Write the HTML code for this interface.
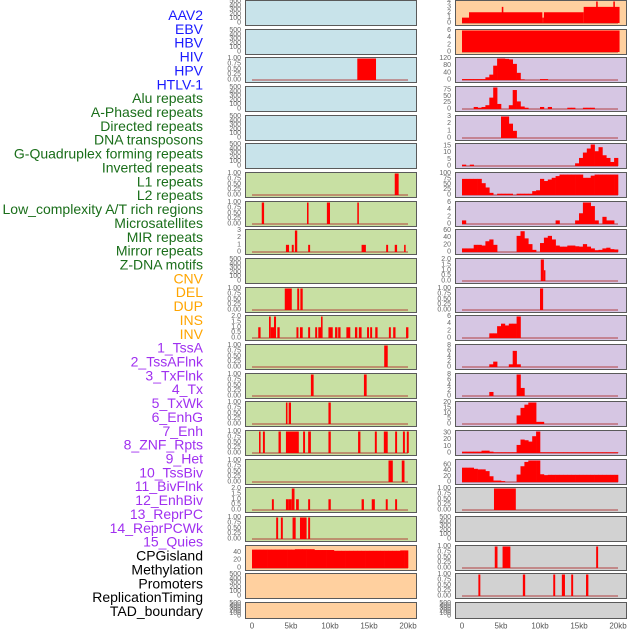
<!DOCTYPE html>
<html><head><meta charset="utf-8"><style>
html,body{margin:0;padding:0;background:#fff;}
svg{display:block;font-family:"Liberation Sans",sans-serif;}
</style></head><body>
<svg id="chart" width="630" height="630" viewBox="0 0 630 630" xmlns="http://www.w3.org/2000/svg"></svg>
<script>
// ---------- labels ----------
const labelNames = ["AAV2","EBV","HBV","HIV","HPV","HTLV-1","Alu repeats","A-Phased repeats","Directed repeats","DNA transposons","G-Quadruplex forming repeats","Inverted repeats","L1 repeats","L2 repeats","Low_complexity A/T rich regions","Microsatellites","MIR repeats","Mirror repeats","Z-DNA motifs","CNV","DEL","DUP","INS","INV","1_TssA","2_TssAFlnk","3_TxFlnk","4_Tx","5_TxWk","6_EnhG","7_Enh","8_ZNF_Rpts","9_Het","10_TssBiv","11_BivFlnk","12_EnhBiv","13_ReprPC","14_ReprPCWk","15_Quies","CPGisland","Methylation","Promoters","ReplicationTiming","TAD_boundary"];
const labelGroups = [6,13,5,15,5];
const xTickKb = [0,5,10,15,20];
const xTickLabels = ["0","5kb","10kb","15kb","20kb"];

// ---------- left column data: segments [startKb, endKb, value] ----------
const leftRow2 = [[13.5,15.9,1]];
const leftRow6 = [[18.3,18.8,1]];
const leftRow7 = [[1.25,1.55,1],[7.05,7.25,1],[9.6,10,1],[13.5,13.7,1]];
const leftRow8 = [[4.35,4.75,1],[5.1,5.35,1],[5.5,5.8,3],[7.2,7.45,1],[14.05,14.6,1],[17.2,17.45,1],[18.3,18.6,1],[19.5,19.7,1]];
const leftRow10 = [[4.2,5.1,1],[5.8,6.05,1],[6.2,6.5,1]];
const leftRow11 = [[0.8,1.1,1],[2.18,2.4,2],[2.4,2.86,1],[2.82,3.08,2],[3.25,3.55,1],[5.7,5.95,1],[6.15,6.5,1],[7.2,7.45,1],[8.1,8.35,1],[8.5,8.85,1],[8.85,9.05,2],[9.8,10.35,1],[10.65,10.95,1],[11.05,11.35,1],[12.1,12.6,1],[13.2,13.5,1],[13.7,14.05,1],[14.75,15.0,1],[15.15,15.4,1],[15.8,16.1,1],[17.55,17.8,1],[18.1,18.4,1],[19.75,20.05,1]];
const leftRow12 = [[16.95,17.4,1]];
const leftRow13 = [[7.55,7.9,1],[14.35,14.7,1]];
const leftRow14 = [[4.35,4.55,1],[4.7,5.0,1],[9.8,10.1,1]];
const leftRow15 = [[0.9,1.1,1],[1.4,1.65,1],[3.4,3.7,1],[4.35,6.0,1],[6.55,6.8,1],[7.2,7.55,1],[9.8,10.1,1],[13.6,13.9,1],[15.75,16.0,1],[16.9,17.4,1],[18.35,18.6,1],[19.35,19.6,1],[19.85,20.1,1]];
const leftRow16 = [[17.5,18.05,1],[19.2,19.55,1]];
const leftRow17 = [[2.55,2.8,1],[4.35,4.7,1],[4.7,5.1,1],[5.1,5.45,2],[5.65,6.0,1],[7.2,7.45,1],[9.8,10.1,1],[14.05,14.35,1],[15.35,15.75,1],[17.15,17.4,1],[18.35,18.6,1]];
const leftRow18 = [[3.1,3.35,1],[3.7,3.95,1],[5.2,5.6,1],[6.15,7.0,1],[7.2,7.45,1]];
// binned profile (0.5 kb bins, 0-20 kb)
const leftRow19Bins = [47,47,47,47,47,47,47,47,47,47,47,48,48,48,48,48,46,46,46,46,46,44,44,44,44,44,44,44,44,44,44,44,44,44,44,44,44,44,45,45];

// ---------- right column data ----------
const rightRow0 = [[0,0.9,1],[0.9,10.3,2],[5.1,5.3,3],[10.3,10.5,1],[10.5,15.6,2],[15.6,20.2,3],[17.2,17.4,4],[19.4,19.6,4]];
const rightRow1 = [[0,20.2,6]];
const rightRow2Bins = [5,5,5,5,5,5,15,30,80,120,120,118,115,90,40,3,0,0,0,0,5,5,0,0,0,0,0,0,0,0,0,0,0,0,0,0,0,0,0,0];
const rightRow3Bins = [0,0,0,8,5,8,15,45,85,20,0,0,15,75,30,10,5,0,0,0,8,0,8,0,0,0,0,5,5,0,0,5,5,5,0,0,0,0,0,0];
const rightRow4Bins = [0,0,0,0,0,0,0,0,0,0,3,3,2,1,0,0,0,0,0,0,0,0,0,0,0,0,0,0,0,0,0,0,0,0,0,0,0,0,0,0];
const rightRow5Bins = [1,0,1,0,0,0,0,0,0,0,0,0,0,0,0,0,0,0,0,0,0,0,0,0,0,0,0,0,0,2,6,10,13,16,11,14,8,6,3,6];
const rightRow6Bins = [75,75,75,75,75,55,35,10,0,6,6,6,6,0,6,6,6,6,18,22,75,65,72,80,88,95,95,95,95,95,95,80,80,90,95,95,95,95,95,95];
const rightRow7Bins = [1,0,0,0,0,0,0,0,0,0,0,0,0,0,0,0,0,0,0,0,0,0,0,0,1,0,0,0,0,1,3,6,6,5,1,0,2,1,1,0];
const rightRow8Bins = [10,10,10,20,20,18,30,35,20,0,0,0,0,0,45,58,38,22,6,0,25,40,45,35,18,15,15,18,18,16,15,22,15,10,5,6,10,12,8,7];
const rightRow9 = [[10.1,10.5,2],[10.5,10.65,1]];
const rightRow10 = [[10.0,10.4,1]];
const rightRow11Bins = [0,0,0,0,0,0,0,1.3,1.3,3.3,4,3.5,4,4,6,0,0,0,0,0,0,0,0,0,0,0,0,0,0,0,0,0,0,0,0,0,0,0,0,0];
const rightRow12Bins = [0,0,0,0,0,0,0,1,2,0,0,0,1,6,1,0,0,0,0,0,0,0,0,0,0,0,0,0,0,0,0,0,0,0,0,0,0,0,0,0];
const rightRow13Bins = [0,0,0,0,0,0,0,1.5,0,0,0,0,0,0,8,3,0,0,0,0,0,0,0,0,0,0,0,0,0,0,0,0,0,0,0,0,0,0,0,0];
const rightRow14Bins = [0,0,0,0,0,0,0,0,0,0,0,0,0,0,8,15,18,20,20,2,2,0,0,0,0,0,0,0,0,0,0,0,0,0,0,0,0,0,0,0];
const rightRow15Bins = [2,2,2,2,2,3.5,3.5,2,1,1,1,1,1,1,12,20,19,17,25,32,1,1,1,1,1,1,1,1,1,1,1,1,1,1,1,1,1,1,1,1];
const rightRow16Bins = [50,50,50,46,44,44,38,20,5,5,3,0,0,0,26,55,70,75,75,75,27,24,25,25,25,25,25,25,25,25,25,25,25,25,25,25,25,25,25,25];
const rightRow17 = [[4.1,6.9,1]];
const rightRow19 = [[4.2,4.55,1],[5.2,6.2,1],[17.2,17.45,1]];
const rightRow20 = [[2.1,2.35,1],[7.8,8.1,1],[11.7,11.95,1],[12.8,13.2,1],[14.0,14.25,1],[15.9,16.2,1]];

// tick label sets
const ticks500 = ["0","100","200","300","400","500"];
const ticks1 = ["0.00","0.25","0.50","0.75","1.00"];

const NS = "http://www.w3.org/2000/svg";
const svg = document.getElementById("chart");
function mk(tag, attrs, parent){const e=document.createElementNS(NS,tag);for(const k in attrs)e.setAttribute(k,attrs[k]);(parent||svg).appendChild(e);return e;}

// labels
const groupColors = ["#1a1aff","#1a6e1a","#ffa500","#a030f0","#000000"];
let li=0;
labelGroups.forEach((n,g)=>{for(let j=0;j<n;j++){
  const t=mk("text",{x:203,y:15+li*13.86,"text-anchor":"end","dominant-baseline":"central","font-size":"14",fill:groupColors[g]});
  t.textContent=labelNames[li];
  
  
  li++;}});

function xScale(col,kb){return (col?462:252)+kb*7.8;}
function rowTop(i){return Math.round(i*28.67);}
function rowH(i){return i===21?16:25;}
function yScale(i,v,ymax){const top=rowTop(i),h=rowH(i);const y0=top+h-2,y1=top+1.5;return y0-(v/ymax)*(y0-y1);}

function panel(col,i,bg,tickLabels,ymax,segs,bins){
  const g=mk("g",{});
  
  
  const px=col?455.5:245.5, top=rowTop(i)+0.5, h=rowH(i);
  mk("rect",{x:px,y:top,width:171,height:h,fill:bg,stroke:"#5a5a5a","stroke-width":1},g);
  const tmax=parseFloat(tickLabels[tickLabels.length-1]);
  tickLabels.forEach(tl=>{
    const t=mk("text",{x:col?451:241,y:yScale(i,parseFloat(tl),ymax),"text-anchor":"end","dominant-baseline":"central","font-size":"7",fill:"#666"},g);
    t.textContent=tl;
  });
  const hasData=(segs&&segs.length)||(bins&&bins.length);
  if(!hasData)return;
  const y0=yScale(i,0,ymax);
  const base=mk("rect",{x:xScale(col,0),y:y0-1,width:xScale(col,20)-xScale(col,0),height:2,fill:"#b03030","fill-opacity":0.45},g);
  
  
  if(bins){bins.forEach((v,b)=>{if(v<=0)return;
    const x1=xScale(col,b*0.5),x2=xScale(col,(b+1)*0.5),y=yScale(i,v,ymax);
    const r=mk("rect",{x:x1,y:y,width:x2-x1+0.3,height:y0-y,fill:"#ff0000"},g);
    
    
  });}
  if(segs){segs.forEach(s=>{
    const x1=xScale(col,s[0]),x2=xScale(col,s[1]),y=yScale(i,s[2],ymax);
    const r=mk("rect",{x:x1,y:y,width:Math.max(1.5,x2-x1),height:y0-y,fill:"#ff0000"},g);
    
    
  });}
}

const BLUE="#c8e3ea",GREEN="#c8e0a3",PEACH="#ffd09f",LAV="#d6c6e3",GRAY="#d2d2d2";
// left column
const leftSegs=[null,null,leftRow2,null,null,null,leftRow6,leftRow7,leftRow8,null,leftRow10,leftRow11,leftRow12,leftRow13,leftRow14,leftRow15,leftRow16,leftRow17,leftRow18,null,null,null];
for(let i=0;i<22;i++){
  const bg=i<6?BLUE:(i<19?GREEN:PEACH);
  let tk=ticks500,ym=500,segs=leftSegs[i],bins=null;
  if(segs){tk=ticks1;ym=1;}
  if(i===8){tk=["0","1","2","3"];ym=3;}
  if(i===11||i===17){tk=["0.0","0.5","1.0","1.5","2.0"];ym=2;}
  if(i===19){tk=["0","20","40"];ym=55;bins=leftRow19Bins;}
  panel(0,i,bg,tk,ym,segs,bins);
}
// right column
const rightCfg=[
 [PEACH,["0","1","2","3","4"],4,rightRow0,null],
 [PEACH,["0","2","4","6"],6,rightRow1,null],
 [LAV,["0","40","80","120"],120,null,rightRow2Bins],
 [LAV,["0","25","50","75"],85,null,rightRow3Bins],
 [LAV,["0","1","2","3"],3,null,rightRow4Bins],
 [LAV,["0","5","10","15"],16,null,rightRow5Bins],
 [LAV,["0","25","50","75","100"],100,null,rightRow6Bins],
 [LAV,["0","2","4","6"],6,null,rightRow7Bins],
 [LAV,["0","20","40","60"],60,null,rightRow8Bins],
 [LAV,["0.0","0.5","1.0","1.5","2.0"],2,rightRow9,null],
 [LAV,ticks1,1,rightRow10,null],
 [LAV,["0","2","4","6"],6,null,rightRow11Bins],
 [LAV,["0","2","4","6","8"],8,null,rightRow12Bins],
 [LAV,["0","2","4","6","8"],8,null,rightRow13Bins],
 [LAV,["0","5","10","15","20"],20,null,rightRow14Bins],
 [LAV,["0","10","20","30"],32,null,rightRow15Bins],
 [LAV,["0","20","40","60"],75,null,rightRow16Bins],
 [GRAY,ticks1,1,rightRow17,null],
 [GRAY,ticks500,500,null,null],
 [GRAY,ticks1,1,rightRow19,null],
 [GRAY,ticks1,1,rightRow20,null],
 [GRAY,ticks500,500,null,null]
];
rightCfg.forEach((c,i)=>panel(1,i,c[0],c[1],c[2],c[3],c[4]));

// x axes
[0,1].forEach(col=>{xTickKb.forEach((k,j)=>{
  const t=mk("text",{x:xScale(col,k),y:626,"text-anchor":"middle","dominant-baseline":"central","font-size":"8",fill:"#555"});
  t.textContent=xTickLabels[j];
  
  
});});
</script>
</body></html>
